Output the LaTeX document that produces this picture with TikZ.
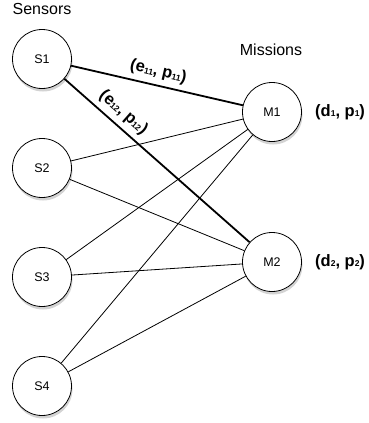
\documentclass[tikz,border=0pt]{standalone}
\usepackage{fontspec}
\setmainfont{Liberation Sans}
\usetikzlibrary{shadows}
\newcommand{\sbs}[1]{\raisebox{-0.5pt}{\fontsize{8.5}{8.5}\selectfont #1}}

\begin{document}
\begin{tikzpicture}[x=1pt, y=-1pt,
    unit/.style={circle, draw, line width=0.8pt, fill=white, minimum size=59pt,
      inner sep=0pt, font=\fontsize{12.5}{12.5}\selectfont,
      drop shadow={shadow xshift=1pt, shadow yshift=-3pt, opacity=0.35}},
    thinlink/.style={line width=0.8pt},
    thicklink/.style={line width=1.8pt},
    tag/.style={font=\bfseries\fontsize{16.5}{16.5}\selectfont, inner sep=0pt}]
  \useasboundingbox (0,0) rectangle (369,423);

  % Sensors
  \node[font=\fontsize{16}{16}\selectfont] (sensors) at (42, 9) {Sensors};
  \node[unit] (s1) at (42, 59) {S1};
  \node[unit] (s2) at (42, 168) {S2};
  \node[unit] (s3) at (42, 277) {S3};
  \node[unit] (s4) at (42, 386) {S4};

  % Missions
  \node[font=\fontsize{16}{16}\selectfont] (missions) at (271, 50) {Missions};
  \node[unit] (m1) at (272, 112) {M1};
  \node[unit] (m2) at (272, 262) {M2};

  \node[tag, anchor=west] (q1) at (315, 112) {(d\sbs{1}, p\sbs{1})};
  \node[tag, anchor=west] (q2) at (315, 262) {(d\sbs{2}, p\sbs{2})};

  % Links
  \draw[thicklink] (s1) -- node[tag, sloped, above=5pt, pos=0.49] {(e\sbs{11}, p\sbs{11})} (m1);
  \draw[thicklink] (s1) -- node[tag, sloped, above=5pt, pos=0.27] {(e\sbs{12}, p\sbs{12})} (m2);
  \foreach \s in {s2, s3, s4} {
    \draw[thinlink] (\s) -- (m1);
    \draw[thinlink] (\s) -- (m2);
  }
\end{tikzpicture}
\end{document}
